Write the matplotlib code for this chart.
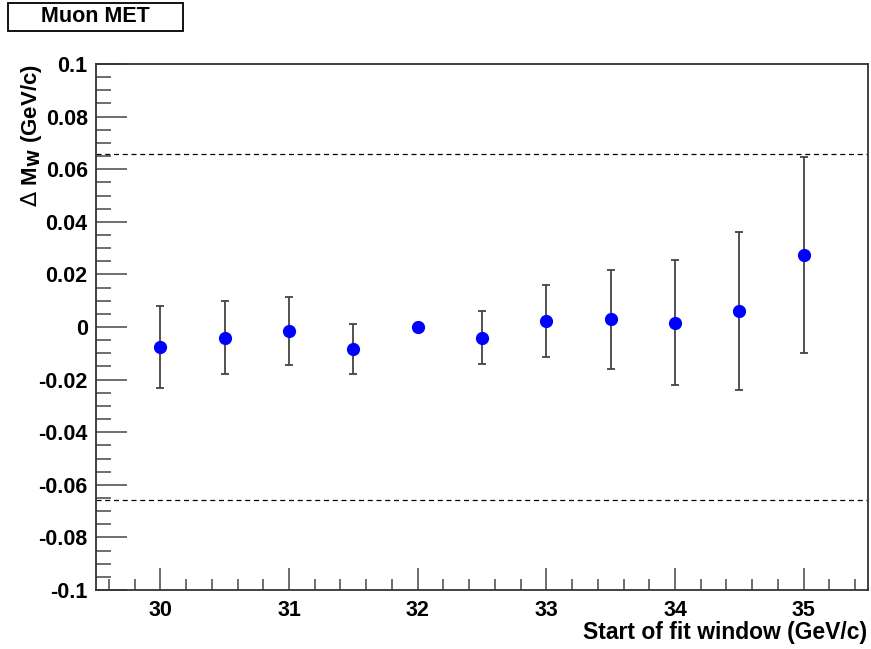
import matplotlib
matplotlib.use("Agg")
import matplotlib.pyplot as plt
from matplotlib.patches import Rectangle
from matplotlib.ticker import MultipleLocator

plt.rcParams["font.family"] = ["Liberation Sans", "DejaVu Sans"]

# Datos
fit_start = [30.0, 30.5, 31.0, 31.5, 32.0, 32.5, 33.0, 33.5, 34.0, 34.5, 35.0]
delta_mw = [-0.0076, -0.0040, -0.0015, -0.0083, 0.0, -0.0040, 0.0023, 0.0030, 0.0017, 0.0061, 0.0273]
delta_err = [0.0156, 0.0140, 0.0129, 0.0096, 0.0, 0.0100, 0.0138, 0.0188, 0.0239, 0.0301, 0.0373]
band = 0.0658

fig = plt.figure(figsize=(8.71, 6.49), dpi=100)
ax = fig.add_axes([96 / 871, 59 / 649, 772 / 871, 526 / 649])

ax.errorbar(fit_start, delta_mw, yerr=delta_err, fmt="o", color="blue",
            markersize=8.5, ecolor="#444444", elinewidth=1.3, capsize=3,
            capthick=1.3, zorder=3)
ax.axhline(band, color="black", linestyle=(0, (4, 3)), linewidth=0.9)
ax.axhline(-band, color="black", linestyle=(0, (4, 3)), linewidth=0.9)

ax.set_xlim(29.5, 35.5)
ax.set_ylim(-0.1, 0.1)
ax.xaxis.set_major_locator(MultipleLocator(1))
ax.xaxis.set_minor_locator(MultipleLocator(0.2))
ax.yaxis.set_minor_locator(MultipleLocator(0.005))
ax.set_yticks([-0.1, -0.08, -0.06, -0.04, -0.02, 0, 0.02, 0.04, 0.06, 0.08, 0.1])
ax.set_yticklabels(["-0.1", "-0.08", "-0.06", "-0.04", "-0.02", "0",
                    "0.02", "0.04", "0.06", "0.08", "0.1"])

ax.tick_params(axis="both", which="both", direction="in", top=False, right=False,
               color="#555555", labelsize=15.5)
ax.tick_params(axis="y", which="major", length=22, width=1.2, pad=6)
ax.tick_params(axis="y", which="minor", length=11, width=1.2)
ax.tick_params(axis="x", which="major", length=16, width=1.2, pad=7)
ax.tick_params(axis="x", which="minor", length=8, width=1.2)
for lab in ax.get_xticklabels() + ax.get_yticklabels():
    lab.set_fontweight("bold")
for s in ax.spines.values():
    s.set_linewidth(1.3)
    s.set_color("#333333")

fig.text(867 / 871, 1 - 632 / 649, "Start of fit window (GeV/c)", ha="right",
         va="center", fontsize=16.5, fontweight="bold")
fig.text(31 / 871, 1 - 64 / 649, r"$\Delta$ M$_\mathbf{W}$ (GeV/c)", rotation=90,
         ha="center", va="top", fontsize=16, fontweight="bold")

fig.add_artist(Rectangle((8 / 871, 1 - 31 / 649), 175 / 871, 28 / 649,
                         transform=fig.transFigure, facecolor="white",
                         edgecolor="black", linewidth=1.3))
fig.text(95 / 871, 1 - 17 / 649, "Muon MET", ha="center", va="center",
         fontsize=15.5, fontweight="bold")

fig.savefig("out.png", dpi=100)
